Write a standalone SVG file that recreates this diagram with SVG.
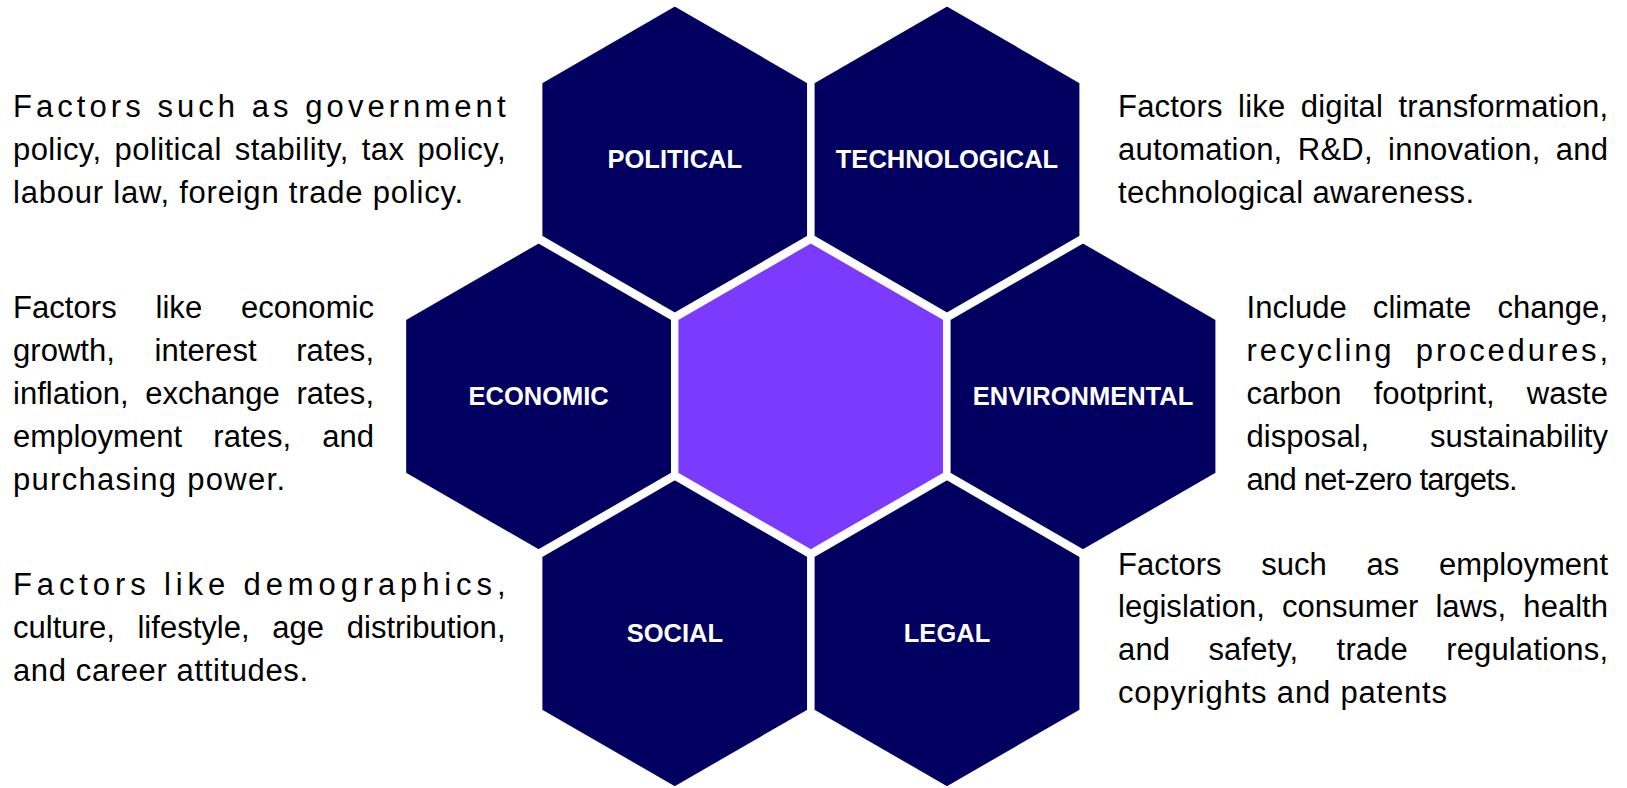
<svg xmlns="http://www.w3.org/2000/svg" width="1627" height="788" viewBox="0 0 1627 788">
<style>
.hex{fill:#010060;stroke:#ffffff;stroke-width:7.4;stroke-linejoin:miter}
.core{fill:#7C3AFF;stroke:#ffffff;stroke-width:7.4;stroke-linejoin:miter}
.lbl{font-family:"Liberation Sans",Arial,sans-serif;font-weight:700;font-size:25.5px;fill:#ffffff;text-anchor:middle}
.desc{font-family:"Liberation Sans",Arial,sans-serif;font-size:31px;fill:#000000}
</style>
<defs>
<polygon id="hx" points="0,-157.15 136.1,-78.575 136.1,78.575 0,157.15 -136.1,78.575 -136.1,-78.575"/>
</defs>
<rect width="1627" height="788" fill="#ffffff"/>
<g id="node-political" transform="translate(674.8,159.5)">
<use href="#hx" class="hex"/>
<text class="lbl" x="0" y="8.8">POLITICAL</text>
</g>
<g id="node-technological" transform="translate(947,159.5)">
<use href="#hx" class="hex"/>
<text class="lbl" x="0" y="8.8">TECHNOLOGICAL</text>
</g>
<g id="node-economic" transform="translate(538.6,396.4)">
<use href="#hx" class="hex"/>
<text class="lbl" x="0" y="8.8">ECONOMIC</text>
</g>
<g id="node-center" transform="translate(810.8,396.4)">
<use href="#hx" class="core"/>
</g>
<g id="node-environmental" transform="translate(1083,396.4)">
<use href="#hx" class="hex"/>
<text class="lbl" x="0" y="8.8">ENVIRONMENTAL</text>
</g>
<g id="node-social" transform="translate(674.8,633.3)">
<use href="#hx" class="hex"/>
<text class="lbl" x="0" y="8.8">SOCIAL</text>
</g>
<g id="node-legal" transform="translate(947,633.3)">
<use href="#hx" class="hex"/>
<text class="lbl" x="0" y="8.8">LEGAL</text>
</g>
<g id="desc-political" class="desc">
<text x="13" y="117" textLength="492.5" lengthAdjust="spacing">Factors such as government</text>
<text x="13" y="159.8" textLength="492.5" lengthAdjust="spacing" word-spacing="4">policy, political stability, tax policy,</text>
<text x="13" y="202.6" textLength="450" lengthAdjust="spacing">labour law, foreign trade policy.</text>
</g>
<g id="desc-technological" class="desc">
<text x="1118" y="117" textLength="490" lengthAdjust="spacing" word-spacing="6.5">Factors like digital transformation,</text>
<text x="1118" y="159.8" textLength="490" lengthAdjust="spacing" word-spacing="6.5">automation, R&amp;D, innovation, and</text>
<text x="1118" y="202.6" textLength="356" lengthAdjust="spacing">technological awareness.</text>
</g>
<g id="desc-economic" class="desc">
<text x="13" y="318.4" textLength="361" lengthAdjust="spacing" word-spacing="30">Factors like economic</text>
<text x="13" y="361.25" textLength="361" lengthAdjust="spacing" word-spacing="31">growth, interest rates,</text>
<text x="13" y="404.1" textLength="361" lengthAdjust="spacing" word-spacing="8">inflation, exchange rates,</text>
<text x="13" y="446.95" textLength="361" lengthAdjust="spacing" word-spacing="22.5">employment rates, and</text>
<text x="13" y="489.8" textLength="272" lengthAdjust="spacing">purchasing power.</text>
</g>
<g id="desc-environmental" class="desc">
<text x="1246.5" y="318.4" textLength="361.5" lengthAdjust="spacing" word-spacing="17.5">Include climate change,</text>
<text x="1246.5" y="361.25" textLength="361.5" lengthAdjust="spacing" word-spacing="10">recycling procedures,</text>
<text x="1246.5" y="404.1" textLength="361.5" lengthAdjust="spacing" word-spacing="23.5">carbon footprint, waste</text>
<text x="1246.5" y="446.95" textLength="361.5" lengthAdjust="spacing" word-spacing="52">disposal, sustainability</text>
<text x="1246.5" y="489.8" textLength="271" lengthAdjust="spacing">and net-zero targets.</text>
</g>
<g id="desc-social" class="desc">
<text x="13" y="595.1" textLength="492.5" lengthAdjust="spacing">Factors like demographics,</text>
<text x="13" y="637.95" textLength="492.5" lengthAdjust="spacing" word-spacing="14">culture, lifestyle, age distribution,</text>
<text x="13" y="680.8" textLength="295" lengthAdjust="spacing">and career attitudes.</text>
</g>
<g id="desc-legal" class="desc">
<text x="1118" y="574.5" textLength="490" lengthAdjust="spacing" word-spacing="31">Factors such as employment</text>
<text x="1118" y="617.35" textLength="490" lengthAdjust="spacing" word-spacing="8.5">legislation, consumer laws, health</text>
<text x="1118" y="660.2" textLength="490" lengthAdjust="spacing" word-spacing="29.5">and safety, trade regulations,</text>
<text x="1118" y="703.05" textLength="329" lengthAdjust="spacing">copyrights and patents</text>
</g>
</svg>
